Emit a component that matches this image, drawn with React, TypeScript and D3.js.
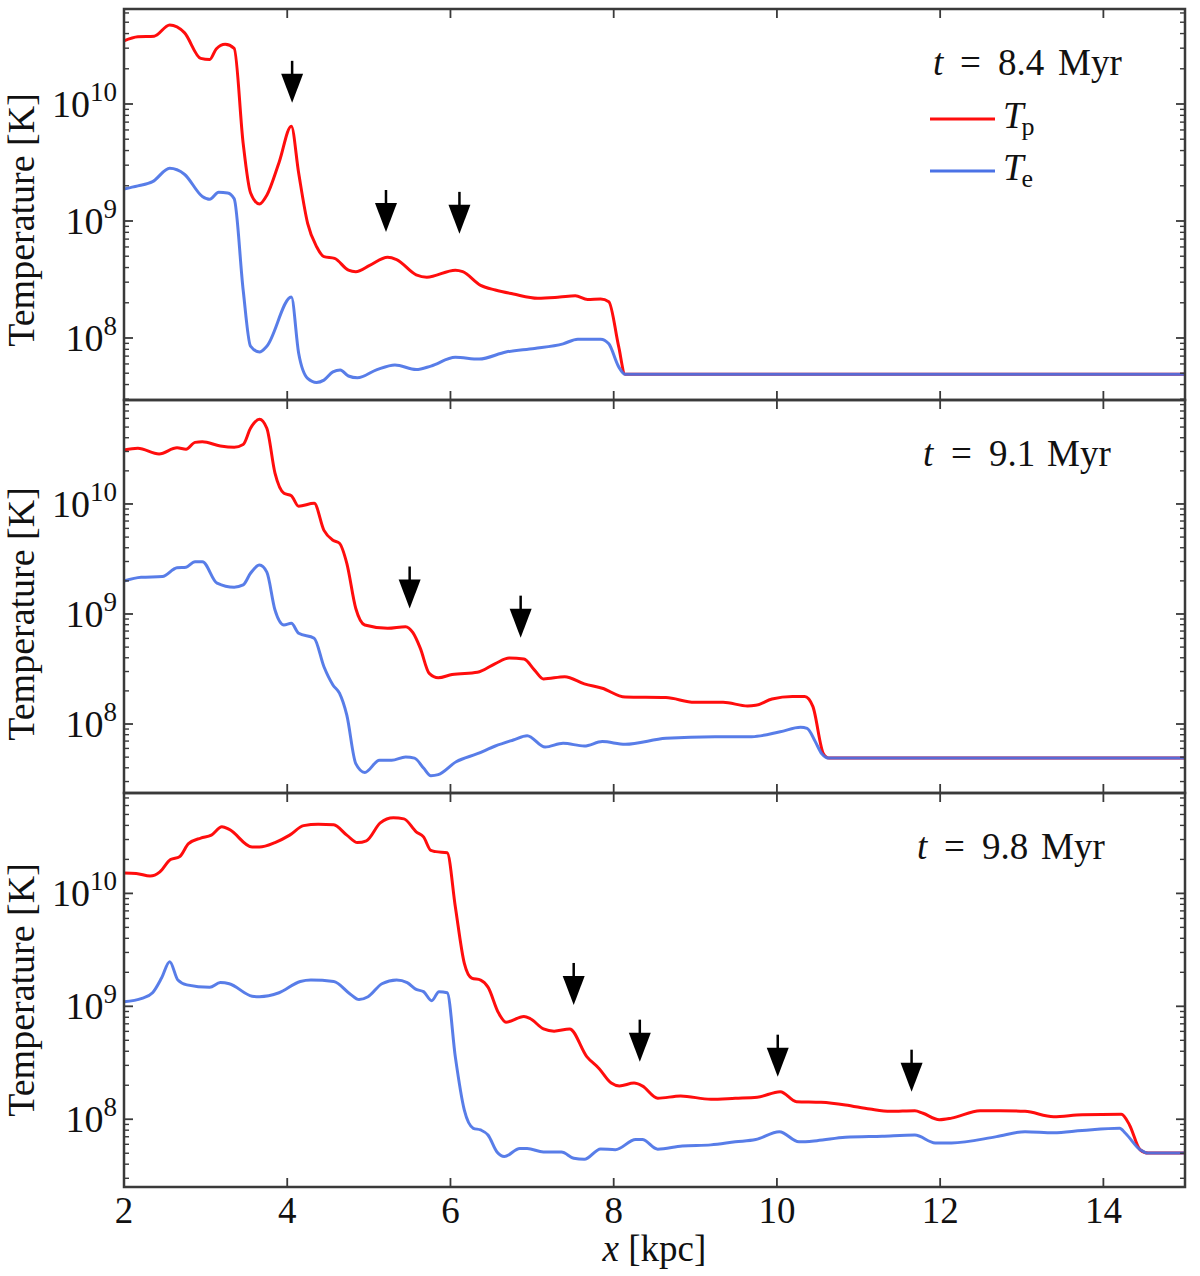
import React from 'react';
import * as d3 from 'd3';

type P = [number, number];

// x in kpc, values are log10(T / K)
const xTicks = [2, 4, 6, 8, 10, 12, 14];
const yMajorExp = [8, 9, 10];
const timeLabels = ['8.4', '9.1', '9.8'];
const seriesNames = ['p', 'e'];

const p1Tp: P[] = [[2.0,10.54],[2.17,10.575],[2.37,10.58],[2.56,10.675],[2.74,10.61],[2.94,10.39],[3.05,10.38],[3.13,10.47],[3.24,10.51],[3.35,10.476],[3.46,9.664],[3.55,9.242],[3.66,9.145],[3.75,9.22],[3.9,9.5],[4.05,9.81],[4.14,9.41],[4.25,8.98],[4.36,8.78],[4.45,8.695],[4.58,8.68],[4.75,8.58],[4.84,8.567],[5.01,8.62],[5.23,8.69],[5.34,8.67],[5.58,8.54],[5.71,8.52],[6.06,8.58],[6.15,8.567],[6.37,8.45],[6.55,8.41],[6.77,8.376],[7.07,8.34],[7.34,8.35],[7.53,8.36],[7.68,8.33],[7.84,8.333],[7.94,8.31],[8.06,7.93],[8.14,7.69],[15,7.69]];
const p1Te: P[] = [[2.0,9.274],[2.17,9.30],[2.35,9.336],[2.56,9.45],[2.74,9.40],[2.96,9.21],[3.05,9.185],[3.16,9.245],[3.27,9.24],[3.35,9.19],[3.46,8.41],[3.55,7.93],[3.66,7.88],[3.75,7.93],[4.05,8.35],[4.14,7.87],[4.25,7.655],[4.36,7.62],[4.45,7.64],[4.56,7.71],[4.65,7.726],[4.75,7.675],[4.86,7.66],[5.1,7.73],[5.32,7.77],[5.58,7.73],[5.76,7.76],[6.06,7.835],[6.35,7.82],[6.68,7.88],[7.03,7.91],[7.38,7.95],[7.56,7.99],[7.84,7.99],[7.94,7.95],[8.06,7.755],[8.14,7.69],[15,7.69]];
const p1Arrows: P[] = [[4.06,10.01],[5.21,8.906],[6.11,8.89]];

const p2Tp: P[] = [[2.0,10.49],[2.17,10.506],[2.43,10.455],[2.65,10.51],[2.76,10.497],[2.87,10.56],[2.96,10.566],[3.18,10.527],[3.35,10.515],[3.46,10.54],[3.55,10.688],[3.66,10.77],[3.75,10.688],[3.85,10.28],[3.96,10.097],[4.05,10.075],[4.14,9.98],[4.33,10.006],[4.45,9.76],[4.56,9.67],[4.64,9.643],[4.73,9.46],[4.84,9.05],[4.95,8.9],[5.23,8.87],[5.45,8.885],[5.54,8.83],[5.63,8.69],[5.74,8.46],[5.85,8.42],[6.02,8.45],[6.33,8.47],[6.55,8.55],[6.72,8.60],[6.9,8.59],[7.03,8.49],[7.14,8.41],[7.4,8.43],[7.64,8.365],[7.86,8.325],[8.14,8.245],[8.64,8.24],[8.99,8.197],[9.34,8.197],[9.64,8.164],[9.74,8.17],[9.94,8.227],[10.19,8.25],[10.34,8.25],[10.44,8.16],[10.57,7.73],[10.64,7.69],[15,7.69]];
const p2Te: P[] = [[2.0,9.30],[2.21,9.333],[2.47,9.34],[2.65,9.42],[2.76,9.425],[2.87,9.475],[2.96,9.475],[3.14,9.28],[3.35,9.243],[3.46,9.264],[3.55,9.37],[3.66,9.445],[3.75,9.38],[3.85,9.036],[3.96,8.9],[4.05,8.915],[4.14,8.825],[4.33,8.78],[4.45,8.52],[4.56,8.355],[4.64,8.28],[4.73,8.08],[4.84,7.64],[4.95,7.56],[5.13,7.67],[5.28,7.67],[5.45,7.70],[5.56,7.69],[5.67,7.60],[5.76,7.53],[5.85,7.54],[6.07,7.657],[6.33,7.73],[6.55,7.80],[6.77,7.855],[6.94,7.894],[7.16,7.79],[7.38,7.825],[7.64,7.80],[7.86,7.84],[8.14,7.815],[8.64,7.87],[9.24,7.885],[9.69,7.885],[10.04,7.93],[10.29,7.97],[10.37,7.96],[10.47,7.84],[10.55,7.73],[10.64,7.69],[15,7.69]];
const p2Arrows: P[] = [[5.5,9.05],[6.86,8.785]];

const p3Tp: P[] = [[2.0,10.18],[2.15,10.177],[2.32,10.153],[2.44,10.19],[2.57,10.30],[2.68,10.324],[2.79,10.44],[2.94,10.49],[3.07,10.516],[3.2,10.59],[3.29,10.566],[3.57,10.41],[3.66,10.41],[3.85,10.45],[4.03,10.516],[4.2,10.60],[4.38,10.613],[4.57,10.607],[4.73,10.516],[4.86,10.45],[4.97,10.466],[5.14,10.625],[5.3,10.67],[5.43,10.66],[5.58,10.545],[5.67,10.50],[5.76,10.38],[5.82,10.37],[5.96,10.36],[6.06,9.88],[6.17,9.38],[6.26,9.25],[6.37,9.233],[6.46,9.17],[6.59,8.94],[6.68,8.86],[6.9,8.91],[6.98,8.89],[7.14,8.80],[7.27,8.78],[7.46,8.80],[7.67,8.555],[7.82,8.45],[7.97,8.32],[8.07,8.295],[8.25,8.32],[8.35,8.295],[8.54,8.186],[8.82,8.206],[9.19,8.177],[9.49,8.186],[9.76,8.195],[10.04,8.244],[10.24,8.156],[10.54,8.15],[10.84,8.127],[11.14,8.09],[11.39,8.07],[11.69,8.076],[11.79,8.053],[11.99,7.996],[12.14,8.01],[12.49,8.076],[12.74,8.076],[13.04,8.07],[13.39,8.023],[13.74,8.04],[14.22,8.044],[14.32,7.95],[14.45,7.73],[14.55,7.70],[15,7.70]];
const p3Te: P[] = [[2.0,9.04],[2.22,9.07],[2.35,9.12],[2.46,9.25],[2.56,9.395],[2.66,9.233],[2.77,9.19],[3.05,9.168],[3.18,9.21],[3.29,9.20],[3.57,9.09],[3.66,9.085],[3.9,9.12],[4.16,9.22],[4.29,9.233],[4.57,9.22],[4.77,9.11],[4.88,9.06],[4.99,9.085],[5.16,9.20],[5.34,9.233],[5.47,9.21],[5.58,9.15],[5.67,9.13],[5.77,9.05],[5.86,9.13],[5.96,9.12],[6.06,8.55],[6.17,8.08],[6.28,7.92],[6.37,7.905],[6.46,7.86],[6.57,7.71],[6.66,7.67],[6.85,7.74],[6.94,7.74],[7.14,7.71],[7.36,7.71],[7.51,7.655],[7.64,7.645],[7.84,7.737],[8.02,7.73],[8.27,7.82],[8.35,7.82],[8.54,7.735],[8.84,7.764],[9.19,7.773],[9.49,7.80],[9.74,7.82],[10.03,7.89],[10.27,7.80],[10.49,7.81],[10.84,7.84],[11.29,7.85],[11.69,7.86],[11.94,7.79],[12.14,7.79],[12.69,7.846],[13.04,7.89],[13.39,7.88],[13.74,7.90],[14.2,7.92],[14.27,7.876],[14.45,7.73],[14.55,7.70],[15,7.70]];
const p3Arrows: P[] = [[7.51,9.012],[8.32,8.51],[10.01,8.377],[11.65,8.244]];

// axis limits (log10 K)
const p1Limits = [7.47, 10.812];
const p2Limits = [7.373, 10.945];
const p3Limits = [7.40, 10.889];

const W = 1200, H = 1276;
const LEFT = 124, RIGHT = 1185;
const FONT = "'Liberation Serif', 'Times New Roman', serif";
const RED = '#ff0d0d';
const BLUE = '#4a72e6';
const FRAME = '#3a3a3a';

const panelLayout = [
  { top: 9, bottom: 400, ylabelCy: 220, tX: [933, 960, 998, 1058] },
  { top: 400, bottom: 793, ylabelCy: 614, tX: [923, 951, 989, 1047] },
  { top: 793, bottom: 1187, ylabelCy: 990, tX: [917, 944, 982, 1041] },
];

const panelsData = [
  { tp: p1Tp, te: p1Te, arrows: p1Arrows, lim: p1Limits },
  { tp: p2Tp, te: p2Te, arrows: p2Arrows, lim: p2Limits },
  { tp: p3Tp, te: p3Te, arrows: p3Arrows, lim: p3Limits },
];

const x = d3.scaleLinear().domain([2, 15]).range([LEFT, RIGHT]);

function Panel({ idx }: { idx: number }) {
  const d = panelsData[idx];
  const L = panelLayout[idx];
  const y = d3.scaleLog()
    .domain([Math.pow(10, d.lim[0]), Math.pow(10, d.lim[1])])
    .range([L.bottom, L.top]);
  const line = d3.line<P>()
    .x(p => x(p[0]))
    .y(p => y(Math.pow(10, p[1])))
    .curve(d3.curveMonotoneX);

  const minor: number[] = [];
  for (let e = 7; e <= 10; e++) {
    for (let m = 2; m <= 9; m++) {
      const v = m * Math.pow(10, e);
      const lv = Math.log10(v);
      if (lv > d.lim[0] && lv < d.lim[1]) minor.push(v);
    }
  }
  const major = yMajorExp.map(e => Math.pow(10, e));

  return (
    <g>
      <path d={line(d.tp) || ''} fill="none" stroke={RED} strokeWidth={3} strokeLinejoin="round" />
      <path d={line(d.te) || ''} fill="none" stroke={BLUE} strokeWidth={3} strokeLinejoin="round" strokeOpacity={0.92} />
      {d.arrows.map((a, i) => {
        const ax = x(a[0]);
        const ay = y(Math.pow(10, a[1]));
        return (
          <g key={i}>
            <line x1={ax} x2={ax} y1={ay - 42} y2={ay - 26} stroke="#000" strokeWidth={2.5} />
            <path d={`M${ax - 11},${ay - 29} L${ax + 11},${ay - 29} L${ax},${ay} Z`} fill="#000" />
          </g>
        );
      })}
      <rect x={LEFT} y={L.top} width={RIGHT - LEFT} height={L.bottom - L.top} fill="none" stroke={FRAME} strokeWidth={2.5} />
      {xTicks.map(t => (
        <g key={t}>
          <line x1={x(t)} x2={x(t)} y1={L.top} y2={L.top + 9} stroke={FRAME} strokeWidth={1.8} />
          <line x1={x(t)} x2={x(t)} y1={L.bottom} y2={L.bottom - 9} stroke={FRAME} strokeWidth={1.8} />
        </g>
      ))}
      {major.map(v => (
        <g key={v}>
          <line x1={LEFT} x2={LEFT + 9} y1={y(v)} y2={y(v)} stroke={FRAME} strokeWidth={1.8} />
          <line x1={RIGHT} x2={RIGHT - 9} y1={y(v)} y2={y(v)} stroke={FRAME} strokeWidth={1.8} />
          <text x={117} y={y(v) + 13} textAnchor="end" fontFamily={FONT} fontSize={38} fill="#111">
            10<tspan fontSize={27} dy={-16}>{Math.round(Math.log10(v))}</tspan>
          </text>
        </g>
      ))}
      {minor.map(v => (
        <g key={v}>
          <line x1={LEFT} x2={LEFT + 5} y1={y(v)} y2={y(v)} stroke={FRAME} strokeWidth={1.4} />
          <line x1={RIGHT} x2={RIGHT - 5} y1={y(v)} y2={y(v)} stroke={FRAME} strokeWidth={1.4} />
        </g>
      ))}
      <text transform={`translate(34,${L.ylabelCy}) rotate(-90)`} textAnchor="middle" fontFamily={FONT} fontSize={38} fill="#111">
        Temperature [K]
      </text>
      <text y={L.top + 66} fontFamily={FONT} fontSize={37} fill="#111">
        <tspan x={L.tX[0]} fontStyle="italic">t</tspan>
        <tspan x={L.tX[1]}>=</tspan>
        <tspan x={L.tX[2]}>{timeLabels[idx]}</tspan>
        <tspan x={L.tX[3]}>Myr</tspan>
      </text>
    </g>
  );
}

function Legend() {
  const rows = [
    { color: RED, y: 119, name: seriesNames[0] },
    { color: BLUE, y: 171, name: seriesNames[1] },
  ];
  return (
    <g>
      {rows.map(r => (
        <g key={r.name}>
          <line x1={930} x2={995} y1={r.y} y2={r.y} stroke={r.color} strokeWidth={3} />
          <text x={1003} y={r.y + 9} fontFamily={FONT} fontSize={37} fill="#111">
            <tspan fontStyle="italic">T</tspan>
            <tspan fontSize={26} dy={7} dx={-2}>{r.name}</tspan>
          </text>
        </g>
      ))}
    </g>
  );
}

export default function App() {
  return (
    <svg width={W} height={H} style={{ position: 'absolute', left: 0, top: 0, background: '#fff' }}>
      <rect width={W} height={H} fill="#fff" />
      {[0, 1, 2].map(i => <Panel key={i} idx={i} />)}
      <Legend />
      {xTicks.map(t => (
        <text key={t} x={x(t)} y={1223} textAnchor="middle" fontFamily={FONT} fontSize={37} fill="#111">{t}</text>
      ))}
      <text x={(LEFT + RIGHT) / 2} y={1261} textAnchor="middle" fontFamily={FONT} fontSize={37} fill="#111">
        <tspan fontStyle="italic">x</tspan> [kpc]
      </text>
    </svg>
  );
}
